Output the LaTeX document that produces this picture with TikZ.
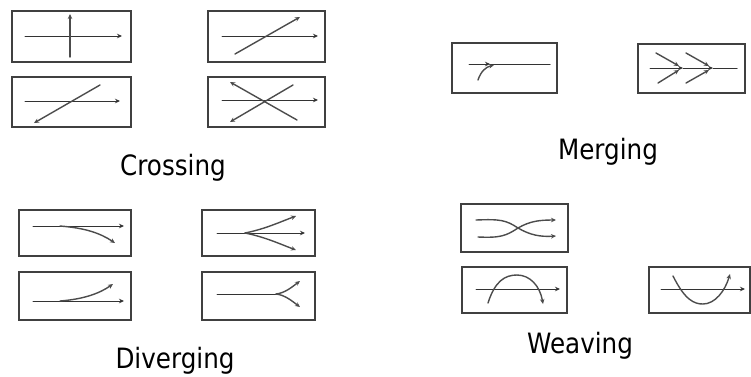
\documentclass[tikz,border=0pt]{standalone}
\usepackage{fontspec}
\setmainfont{DejaVu Sans}[FakeStretch=0.88]
\usetikzlibrary{arrows.meta}
\tikzset{
  lane/.style={line width=1pt, draw=black!80, line cap=round},
  flow/.style={lane, -{Stealth[length=5pt,width=4.5pt]}},
  heavy/.style={flow, line width=1.4pt, draw=black!70},
  frame/.style={draw=black!75, line width=1.5pt},
  caption/.style={font=\fontsize{28}{30}\selectfont, anchor=base, inner sep=0pt}
}
\begin{document}
\begin{tikzpicture}[x=1pt,y=-1pt]
\useasboundingbox (0,0) rectangle (751,376);

% ---------- Crossing ----------
\draw[frame] (12,11) rectangle (131,62);
\draw[flow] (25,36) -- (122,36);
\draw[heavy] (70,57) -- (70,14);

\draw[frame] (208,11) rectangle (325,62);
\draw[flow] (222,36) -- (318,36);
\draw[heavy] (235,54) -- (300,17);

\draw[frame] (12,77) rectangle (131,127);
\draw[flow] (25,101) -- (120,101);
\draw[heavy] (100,85) -- (34,123);

\draw[frame] (208,77) rectangle (325,127);
\draw[flow] (222,100) -- (318,100);
\draw[heavy] (297,120) -- (230,82);
\draw[heavy] (293,85) -- (230,122);

\node[caption] (crossing) at (173,175) {Crossing};

% ---------- Merging ----------
\draw[frame] (452,43) rectangle (557,93);
\draw[flow] (469,64) -- (490,64);
\draw[lane] (490,64) -- (550,64);
\draw[heavy] (478,80) .. controls (481,71) and (486,67) .. (494,65);

\draw[frame] (638,44) rectangle (745,93);
\draw[flow] (650,68) -- (683,68);
\draw[flow] (683,68) -- (713,68);
\draw[lane] (713,68) -- (737,68);
\draw[heavy] (656,53) -- (679,66);
\draw[heavy] (658,83) -- (679,70);
\draw[heavy] (686,53) -- (709,66);
\draw[heavy] (686,83) -- (709,70);

\node[caption] (merging) at (608,159) {Merging};

% ---------- Diverging ----------
\draw[frame] (19,210) rectangle (131,256);
\draw[flow] (33,226) -- (124,226);
\draw[heavy] (60,226) .. controls (85,228) and (100,233) .. (115,243);

\draw[frame] (202,210) rectangle (315,256);
\draw[flow] (217,233) -- (305,233);
\draw[heavy] (245,233) .. controls (265,229) and (280,222) .. (296,216);
\draw[heavy] (245,233) .. controls (265,237) and (280,244) .. (296,250);

\draw[frame] (19,272) rectangle (131,320);
\draw[flow] (33,301) -- (124,301);
\draw[heavy] (60,301) .. controls (85,299) and (100,293) .. (113,284);

\draw[frame] (202,272) rectangle (315,320);
\draw[lane] (217,294) -- (276,294);
\draw[heavy] (276,294) .. controls (285,293) and (292,287) .. (300,281);
\draw[heavy] (276,294) .. controls (285,295) and (292,301) .. (300,307);

\node[caption] (diverging) at (175,368) {Diverging};

% ---------- Weaving ----------
\draw[frame] (461,204) rectangle (568,252);
\draw[heavy] (476,220) .. controls (500,219) and (506,220) .. (518,228)
                       .. controls (530,235) and (540,237) .. (556,236);
\draw[heavy] (478,237) .. controls (500,238) and (506,236) .. (518,228)
                       .. controls (530,221) and (540,220) .. (556,220);

\draw[frame] (462,267) rectangle (567,313);
\draw[flow] (476,289) -- (560,289);
\draw[heavy] (488,303) .. controls (495,281) and (505,275) .. (517,275)
                       .. controls (530,275) and (540,286) .. (543,304);

\draw[frame] (649,267) rectangle (750,313);
\draw[flow] (661,289) -- (745,289);
\draw[heavy] (673,276) .. controls (685,300) and (694,304) .. (703,304)
                       .. controls (715,304) and (725,291) .. (730,274);

\node[caption] (weaving) at (580,353) {Weaving};
\end{tikzpicture}
\end{document}
